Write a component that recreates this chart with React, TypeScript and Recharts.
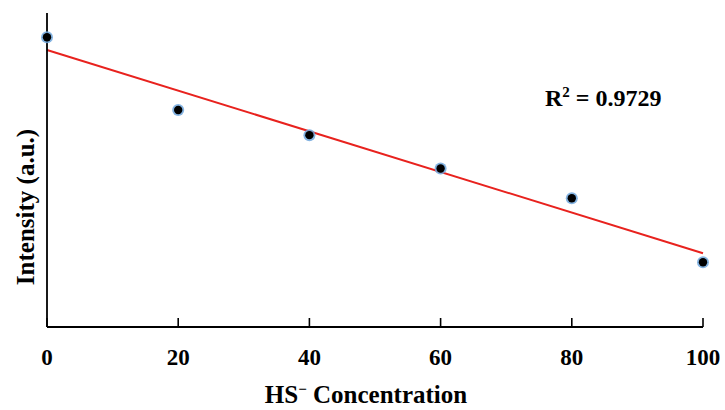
import React from 'react';
import { ComposedChart, Scatter, Line, XAxis, YAxis } from 'recharts';

const concentrations = [0, 20, 40, 60, 80, 100];
const intensities = [92.3, 69.1, 61.1, 50.5, 41.0, 20.6];
const trendX = [0, 100];
const trendY = [88.2, 23.5];
const xTicks = [0, 20, 40, 60, 80, 100];
const r2Label = '0.9729';

const points = concentrations.map((x, i) => ({ x, y: intensities[i] }));
const trend = trendX.map((x, i) => ({ x, y: trendY[i] }));

const FONT = '"Liberation Serif", "Times New Roman", serif';

const XTick = (props: any) => {
  const { x, y, payload } = props;
  return (
    <g>
      <line x1={x} x2={x} y1={y} y2={y - 9} stroke="#000" strokeWidth={1.6} />
      <text x={x} y={y + 38} textAnchor="middle" fontFamily={FONT} fontWeight="bold" fontSize={23} fill="#000">
        {payload.value}
      </text>
    </g>
  );
};

const Dot = (props: any) => {
  const { cx, cy } = props;
  return (
    <g>
      <circle cx={cx} cy={cy} r={6} fill="#6fa6dc" opacity={0.85} />
      <circle cx={cx} cy={cy} r={4.2} fill="#000" />
    </g>
  );
};

export default function App() {
  return (
    <div style={{ position: 'absolute', left: 0, top: 0, width: 725, height: 410, background: '#fff' }}>
      <ComposedChart width={725} height={410} margin={{ top: 13, right: 22, bottom: 0, left: 0 }}>
        <XAxis
          type="number"
          dataKey="x"
          domain={[0, 100]}
          ticks={xTicks}
          height={83}
          tickSize={0}
          tickMargin={0}
          tickLine={false}
          axisLine={{ stroke: '#000', strokeWidth: 1.8 }}
          tick={<XTick />}
          interval={0}
        />
        <YAxis
          type="number"
          dataKey="y"
          domain={[0, 100]}
          width={47}
          tick={false}
          tickLine={false}
          axisLine={{ stroke: '#000', strokeWidth: 1.8 }}
        />
        <Line
          data={trend}
          dataKey="y"
          type="linear"
          stroke="#e8221e"
          strokeWidth={2}
          dot={false}
          activeDot={false}
          isAnimationActive={false}
        />
        <Scatter data={points} dataKey="y" shape={<Dot />} isAnimationActive={false} />
      </ComposedChart>
      <svg width={725} height={410} style={{ position: 'absolute', left: 0, top: 0, pointerEvents: 'none' }}>
        <text x={545} y={106} fontFamily={FONT} fontWeight="bold" fontSize={24} fill="#000">
          R<tspan dy={-9} fontSize={15}>2</tspan>
          <tspan dy={9}>{' = ' + r2Label}</tspan>
        </text>
        <text
          x={366}
          y={403}
          textAnchor="middle"
          fontFamily={FONT}
          fontWeight="bold"
          fontSize={25}
          fill="#000"
        >
          HS<tspan dy={-9} fontSize={15}>−</tspan>
          <tspan dy={9}> Concentration</tspan>
        </text>
        <text
          x={34}
          y={207}
          transform="rotate(-90 34 207)"
          textAnchor="middle"
          fontFamily={FONT}
          fontWeight="bold"
          fontSize={25}
          fill="#000"
        >
          Intensity (a.u.)
        </text>
      </svg>
    </div>
  );
}
